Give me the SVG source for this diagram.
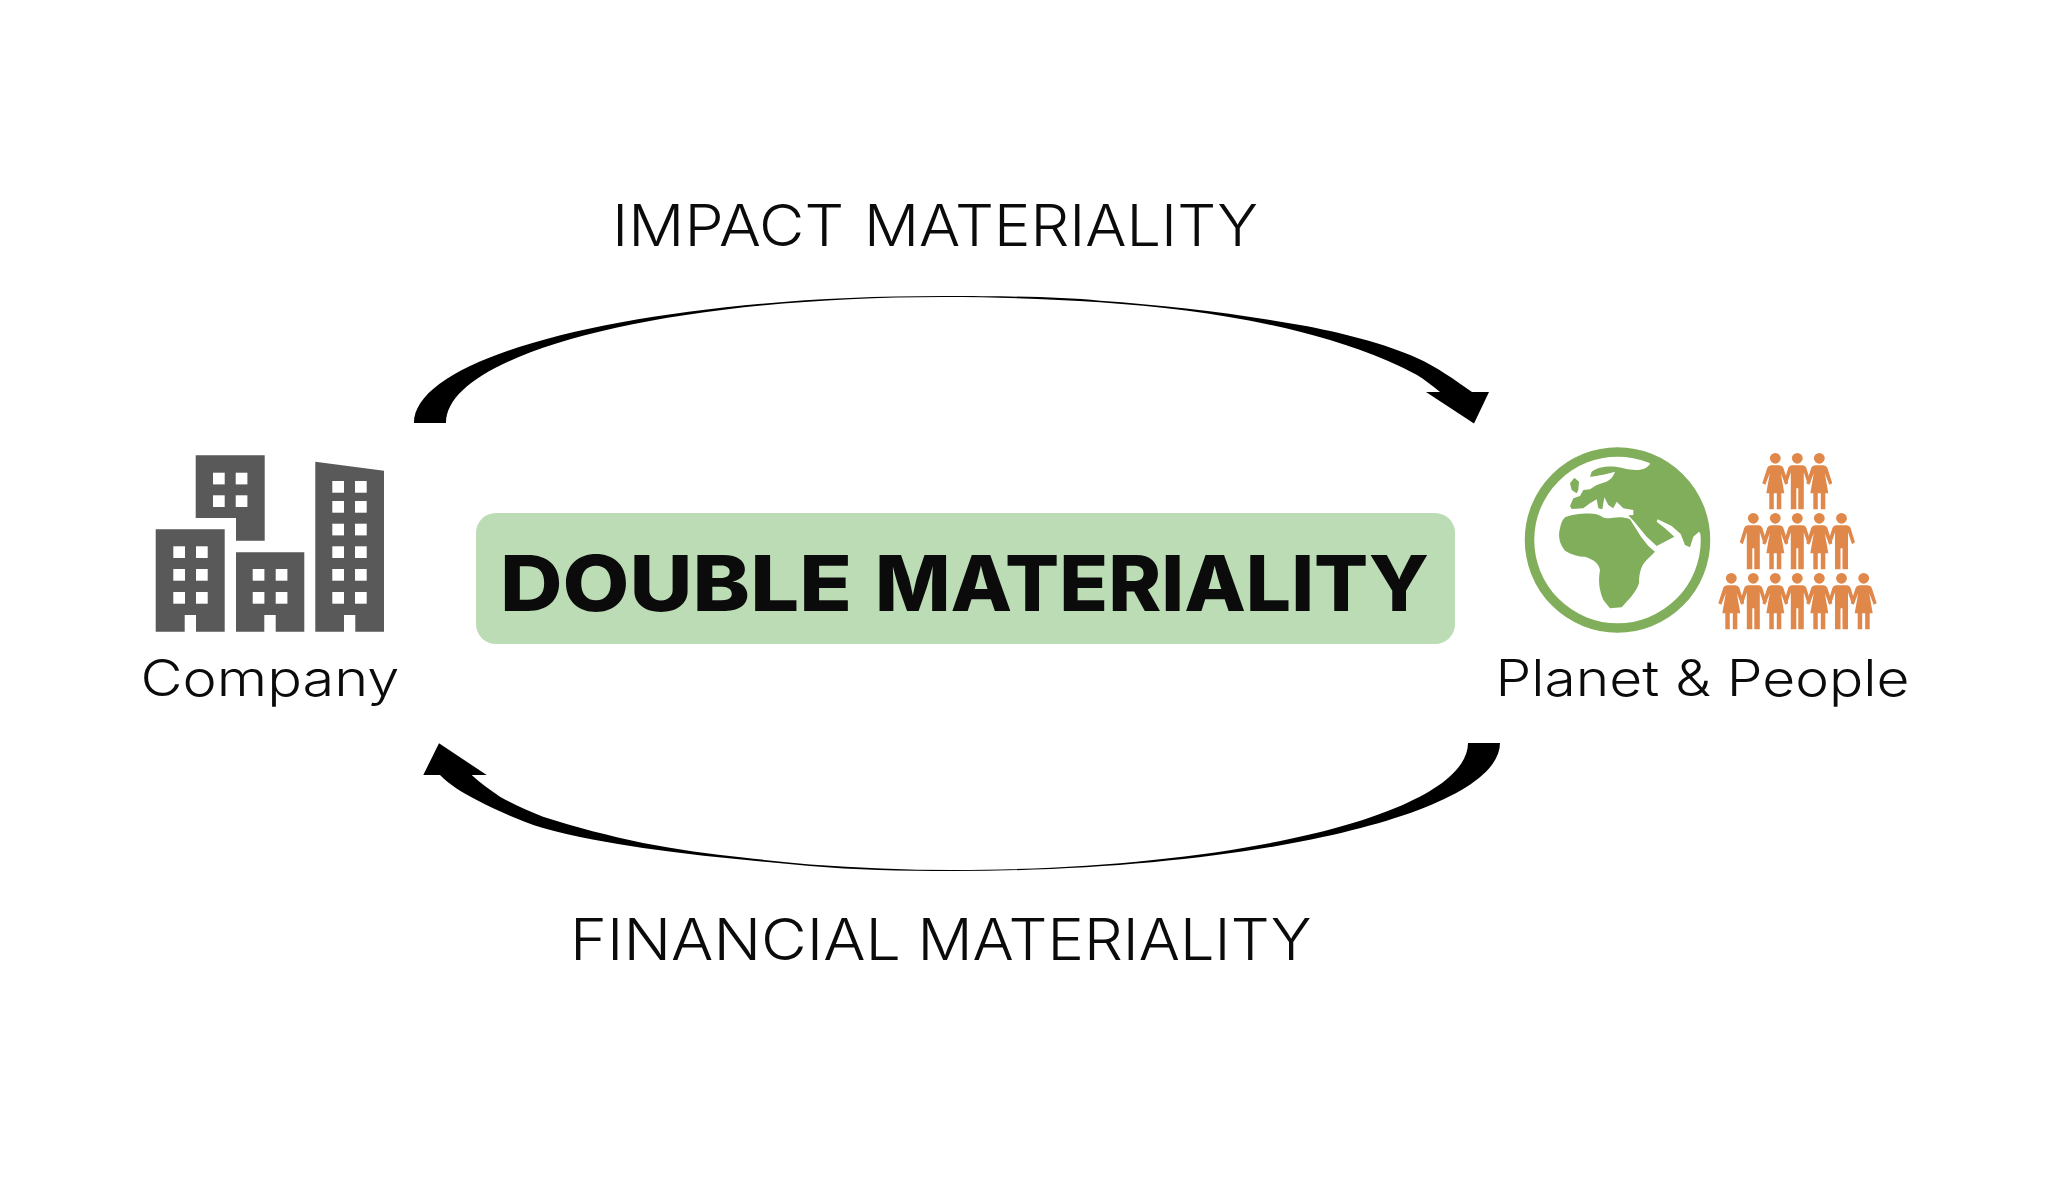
<svg xmlns="http://www.w3.org/2000/svg" width="2048" height="1190" viewBox="0 0 2048 1190">
<style>
.t{font-family:"Inter","Open Sans","Liberation Sans",sans-serif;fill:#0b0b0b}
.l{font-weight:300;font-size:57px}
.n{font-weight:300;font-size:50px}
.b{fill:#595959}
.w{fill:#fff}
.p{fill:#e0874a}
.g{fill:#80ae5b}
</style>
<defs>
<g id="m" class="p"><circle r="5.400"/><path d="M-5.500,7H5.500Q8,7 9,9.500L13.500,24L10.500,26L6.500,14V51H1V30H-1V51H-6.500V14L-10.500,26L-13.500,24L-9,9.500Q-8,7-5.500,7Z"/></g>
<g id="f" class="p"><circle r="5.400"/><path d="M-4,7H4Q7,7 8,9.500L13,25L10,26.500L5.500,15L9,35H6V51H1.500V35H-1.500V51H-6V35H-9L-5.500,15L-10,26.500L-13,25L-8,9.500Q-7,7-4,7Z"/></g>
<path id="win" class="w" d="M0,0h11.700v11.700H0Z"/>
</defs>
<rect width="2048" height="1190" fill="#fff"/>
<g id="connectors">
<path id="impact-arrow" d="M414,423C414,353 651,296 943,296C1010,296 1060,297 1100,300.700C1167,305.400 1233,313 1300,325C1339,332 1385,343.600 1417,358C1437,367 1455,380 1472,392H1489L1474,423.500L1426,392H1440C1432,385.500 1425,380 1417,375C1380,355 1340,342 1300,331.700C1233,315 1167,307 1100,302.300C1050,299 1000,297 943,297C668,297 446,353 446,423Z" fill="#000"/>
<path id="financial-arrow" d="M1500,743C1500,813 1255,871 953,871C900,871 855,870 810,866C755,861 699,856 643,848C610,843 575,837 543,828C520,821 498,811 476.700,800C463,793 450,785 440,775H423.300L439,743.300L486.700,775H471.700C480,783 490,790 500,796.700C513,804 528,811 543,816.700C575,827 610,836 643,843C677,849.500 710,854 743,857.500C765,860 788,862.500 810,864.500C858,868 905,870 953,870C1238,870 1468,813 1468,743Z" fill="#000"/>
</g>
<g id="label-impact"><text class="t l" y="246"><tspan x="612" textLength="232" lengthAdjust="spacingAndGlyphs">IMPACT</tspan> <tspan x="864" textLength="394" lengthAdjust="spacingAndGlyphs">MATERIALITY</tspan></text></g>
<g id="label-financial"><text class="t l" y="960"><tspan x="570" textLength="331" lengthAdjust="spacingAndGlyphs">FINANCIAL</tspan> <tspan x="917.500" textLength="394" lengthAdjust="spacingAndGlyphs">MATERIALITY</tspan></text></g>
<g id="double-materiality">
<rect x="476" y="513" width="979" height="131" rx="20" fill="#bbdcb5"/>
<text class="t" y="611" font-size="77" font-weight="800"><tspan x="500" textLength="352" lengthAdjust="spacingAndGlyphs">DOUBLE</tspan> <tspan x="875" textLength="554" lengthAdjust="spacingAndGlyphs">MATERIALITY</tspan></text>
</g>
<g id="company">
<path class="b" d="M155.700,529.300H224.700V631.700H196V615H184.700V631.700H155.700Z"/>
<path class="b" d="M195.700,455.300H264.700V540.700H236V518H195.700Z"/>
<path class="b" d="M236,552.300H304.300V631.700H275.700V615H264.300V631.700H236Z"/>
<path class="b" d="M315.300,461.700L384,470.700V631.700H355.300V615H344V631.700H315.300Z"/>
<use href="#win" x="173.300" y="546.300"/><use href="#win" x="196" y="546.300"/>
<use href="#win" x="173.300" y="569"/><use href="#win" x="196" y="569"/>
<use href="#win" x="173.300" y="592"/><use href="#win" x="196" y="592"/>
<use href="#win" x="213" y="472.700"/><use href="#win" x="235.700" y="472.700"/>
<use href="#win" x="213" y="495.300"/><use href="#win" x="235.700" y="495.300"/>
<use href="#win" x="252.700" y="569"/><use href="#win" x="275.700" y="569"/>
<use href="#win" x="252.700" y="592"/><use href="#win" x="275.700" y="592"/>
<use href="#win" x="332.300" y="481"/><use href="#win" x="355" y="481"/>
<use href="#win" x="332.300" y="501"/><use href="#win" x="355" y="501"/>
<use href="#win" x="332.300" y="523.700"/><use href="#win" x="355" y="523.700"/>
<use href="#win" x="332.300" y="546.300"/><use href="#win" x="355" y="546.300"/>
<use href="#win" x="332.300" y="569"/><use href="#win" x="355" y="569"/>
<use href="#win" x="332.300" y="592"/><use href="#win" x="355" y="592"/>
<text class="t n" x="140.500" y="696" textLength="259" lengthAdjust="spacingAndGlyphs">Company</text>
</g>
<g id="planet-people">
<circle cx="1617.500" cy="540" r="88" fill="none" stroke="#80ae5b" stroke-width="9.500"/>
<g transform="translate(1515 440) scale(.33333)">
<path class="g" d="M405,72C390,95 355,92 325,85C290,75 250,80 230,95L225,110C250,108 280,100 300,95C295,110 285,122 265,128L245,135L225,148L205,150L195,168L175,175L165,198L170,207L205,205L225,190L245,178L250,205L262,208L268,172L280,195L295,205L305,185L325,205L355,210L355,225L340,226L358,245L395,290L425,318L478,290L450,265L425,245L428,238L470,258L497,282L510,315L525,322L535,290L552,275L570,300A264,264 0 0 0 405,55Z"/>
<path class="g" d="M185,160L170,150L165,130L178,113L192,125L190,150Z"/>
<path class="g" d="M150,232C170,222 220,218 240,222C260,226 262,234 275,235C295,235 315,226 345,238L378,290L400,318L420,335L395,360C380,375 372,395 372,430C365,455 340,480 320,502L285,505L265,480C255,455 248,430 255,390C252,372 240,360 210,350C190,350 170,345 150,332C135,315 128,290 135,265C138,250 142,240 150,232Z"/>
</g>
<use href="#f" x="1775.300" y="458.300"/><use href="#m" x="1797.300" y="458.300"/><use href="#f" x="1819.300" y="458.300"/>
<use href="#m" x="1753.300" y="518.300"/><use href="#f" x="1775.300" y="518.300"/><use href="#m" x="1797.300" y="518.300"/><use href="#f" x="1819.300" y="518.300"/><use href="#m" x="1841.500" y="518.300"/>
<use href="#f" x="1731.300" y="578.300"/><use href="#m" x="1753.300" y="578.300"/><use href="#f" x="1775.300" y="578.300"/><use href="#m" x="1797.300" y="578.300"/><use href="#f" x="1819.300" y="578.300"/><use href="#m" x="1841.500" y="578.300"/><use href="#f" x="1863.700" y="578.300"/>
<text class="t n" x="1495.500" y="696" textLength="414" lengthAdjust="spacingAndGlyphs">Planet &amp; People</text>
</g>
</svg>
